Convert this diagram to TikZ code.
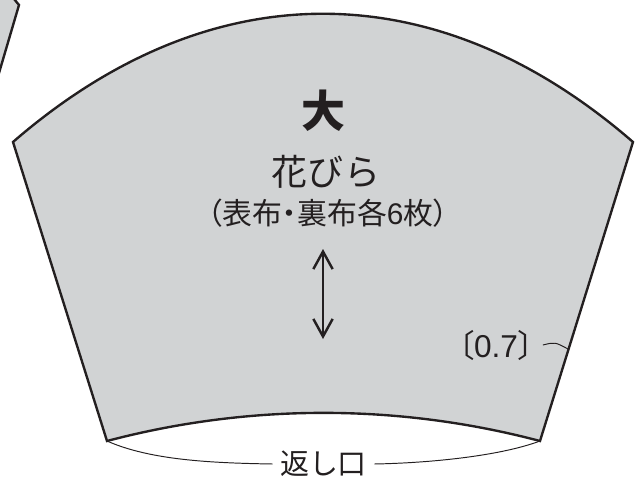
\documentclass[tikz,border=0pt]{standalone}
\usepackage{fontspec}
\usepackage{tikz}
\usetikzlibrary{arrows.meta, positioning}
\setmainfont{Liberation Sans}
\newfontfamily\jpfont{Noto Sans CJK JP}
\newfontfamily\jpnarrow[RawFeature=+palt]{Noto Sans CJK JP}
\definecolor{petalgray}{HTML}{D1D3D4}
\definecolor{inkline}{HTML}{231F20}
\tikzset{
    petal/.style={fill=petalgray, draw=inkline, line width=1.35pt, line join=miter},
    thinline/.style={draw=inkline, line width=0.55pt},
    grainline/.style={draw=inkline, line width=1.4pt, {Straight Barb[length=10pt,width=11pt]}-{Straight Barb[length=10pt,width=11pt]}},
    label/.style={text=inkline, inner sep=0pt, anchor=center}
}
\begin{document}
\begin{tikzpicture}[x=0.02cm, y=-0.02cm]
    % Page area
    \clip (0,0) rectangle (637,487);

    % Corners of the petal
    \coordinate (topleft) at (13,142);
    \coordinate (topright) at (633,142);
    \coordinate (bottomright) at (540,441);
    \coordinate (bottomleft) at (107,441);
    \coordinate (seamend) at (568,349);

    % Neighbouring petal, cut by the page
    \draw[petal] (-6,90) -- (19,5) -- (10,-6) -- (-6,-6) -- cycle;

    % Large petal
    \draw[petal] (topleft) .. controls (210,-29) and (436,-29) .. (topright)
        -- (bottomright) .. controls (398,403.5) and (249,403.5) .. (bottomleft) -- cycle;

    % Texts
    \node[label] (size) at (323,111) {\jpfont\fontsize{25}{25}\selectfont\bfseries 大};
    \node[label] (name) at (326,172) {\jpfont\fontsize{20.5}{21}\selectfont 花びら};
    \node[label] (cloth) at (328,213) {\jpnarrow\fontsize{17}{18}\selectfont （表布・裏布各{\rmfamily 6}枚）};
    \node[label, inner xsep=5pt] (allowance) at (496,345) {\jpnarrow\fontsize{18}{18}\selectfont 〔{\rmfamily 0.7}〕};
    \node[label, inner xsep=4pt] (opening) at (323.5,464) {\jpfont\fontsize{16.5}{17}\selectfont 返し口};

    % Grain arrow
    \coordinate (graintop) at (323,249);
    \coordinate (grainbottom) at (323,339);
    \draw[grainline] (graintop) -- (grainbottom);

    % Thin lines
    \draw[thinline] (allowance.east) .. controls (555,342) .. (seamend);
    \draw[thinline] (bottomleft) .. controls (150,460) and (210,463) .. (opening.west);
    \draw[thinline] (bottomright) .. controls (500,456) and (430,463) .. (opening.east);
\end{tikzpicture}
\end{document}
